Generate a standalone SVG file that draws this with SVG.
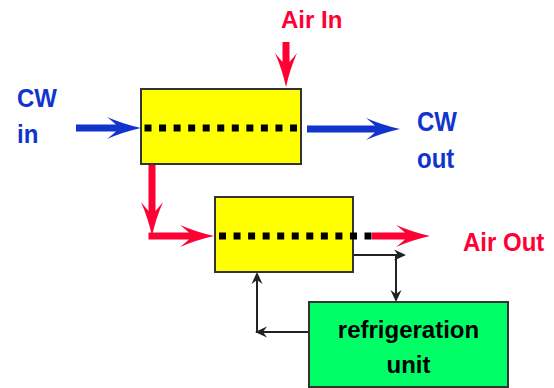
<svg xmlns="http://www.w3.org/2000/svg" width="554" height="388" viewBox="0 0 554 388">
<style>
  .lbl { font-family: "Liberation Sans", Arial, sans-serif; font-weight: bold; font-size: 24px; }
  .blue { fill: #1034cc; }
  .red { fill: #ff0033; }
  .dark { fill: #000; }
  .hx { fill: #ffff00; stroke: #333; stroke-width: 2; }
  .ru { fill: #00ff66; stroke: #333; stroke-width: 2; }
  .dots { stroke: #000; stroke-width: 7; stroke-dasharray: 7 7.55; fill: none; }
  .bflow { stroke: #1034cc; stroke-width: 7; fill: none; marker-end: url(#bh); }
  .rflow { stroke: #ff0033; stroke-width: 7; fill: none; marker-end: url(#rh); }
  .thin { stroke: #222; stroke-width: 2; fill: none; marker-end: url(#kh); }
</style>
<defs>
  <marker id="bh" markerUnits="userSpaceOnUse" viewBox="-14 -12 38 24" refX="0" refY="0" markerWidth="38" markerHeight="24" orient="auto" overflow="visible">
    <path d="M22,0 Q4,-4 -12,-11 Q-3,-4 0,0 Q-3,4 -12,11 Q4,4 22,0 Z" fill="#1034cc"/>
  </marker>
  <marker id="rh" markerUnits="userSpaceOnUse" viewBox="-14 -12 38 24" refX="0" refY="0" markerWidth="38" markerHeight="24" orient="auto" overflow="visible">
    <path d="M22,0 Q4,-4 -12,-11 Q-3,-4 0,0 Q-3,4 -12,11 Q4,4 22,0 Z" fill="#ff0033"/>
  </marker>
  <marker id="kh" markerUnits="userSpaceOnUse" viewBox="-12 -7 16 14" refX="0" refY="0" markerWidth="16" markerHeight="14" orient="auto" overflow="visible">
    <path d="M3,0 L-9,-5.5 L-5,0 L-9,5.5 Z" fill="#222"/>
  </marker>
</defs>

<g id="hx1">
  <rect class="hx" x="141" y="89" width="160" height="75"/>
</g>
<g id="hx2">
  <rect class="hx" x="215" y="197" width="138" height="75"/>
</g>
<g id="refrig">
  <rect class="ru" x="309" y="302" width="199" height="85"/>
  <text class="lbl dark" x="408.5" y="338" text-anchor="middle">refrigeration</text>
  <text class="lbl dark" x="408.5" y="373" text-anchor="middle">unit</text>
</g>

<g id="connectors">
  <line class="dots" x1="144.5" y1="128" x2="300" y2="128"/>
  <line class="dots" x1="219" y1="236" x2="372" y2="236"/>
  <line class="bflow" x1="76" y1="128" x2="119" y2="128"/>
  <line class="bflow" x1="307" y1="129" x2="378" y2="129"/>
  <line class="rflow" x1="286" y1="42" x2="286" y2="65"/>
  <line class="rflow" x1="152" y1="165" x2="152" y2="214"/>
  <line class="rflow" x1="148.5" y1="236" x2="192" y2="236"/>
  <line class="rflow" x1="372" y1="236" x2="408" y2="236"/>
  <line class="thin" x1="354" y1="255" x2="403" y2="255"/>
  <line class="thin" x1="396" y1="255" x2="396" y2="299"/>
  <line class="thin" x1="308" y1="332" x2="258" y2="332"/>
  <line class="thin" x1="257" y1="333" x2="257" y2="275"/>
</g>

<g id="labels">
  <text class="lbl blue" transform="translate(17,107) scale(1,1.1)">CW</text>
  <text class="lbl blue" transform="translate(17,143) scale(1,1.1)">in</text>
  <text class="lbl blue" transform="translate(417,131) scale(1,1.15)">CW</text>
  <text class="lbl blue" transform="translate(417,168) scale(1,1.15)">out</text>
  <text class="lbl red" x="281" y="28">Air In</text>
  <text class="lbl red" transform="translate(463,251) scale(1,1.08)">Air Out</text>
</g>
</svg>
